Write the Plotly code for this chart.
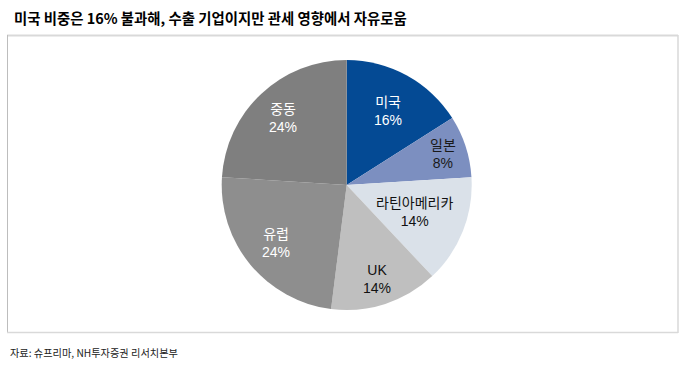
import math
import plotly.graph_objects as go

labels = ["미국", "일본", "라틴아메리카", "UK", "유럽", "중동"]
values = [16, 8, 14, 14, 24, 24]
colors = ["#044A94", "#7C8FC0", "#DAE1E9", "#BFBFBF", "#8E8E8E", "#7F7F7F"]
text_colors = ["#FFFFFF", "#1A1A1A", "#111111", "#111111", "#FFFFFF", "#FFFFFF"]
label_radius = [0.68, 0.81, 0.58, 0.79, 0.73, 0.74]
title_text = "미국 비중은 16% 불과해, 수출 기업이지만 관세 영향에서 자유로움"
source_text = "자료: 슈프리마, NH투자증권 리서치본부"

W, H = 686, 368
cx, cy, r = 346.7, 185.0, 125.0

fig = go.Figure(go.Pie(
    labels=labels,
    values=values,
    sort=False,
    direction="clockwise",
    rotation=0,
    marker=dict(colors=colors, line=dict(width=0)),
    textinfo="none",
    domain=dict(x=[(cx - r) / W, (cx + r) / W], y=[(H - cy - r) / H, (H - cy + r) / H]),
    showlegend=False,
    hoverinfo="skip",
))

def px_x(x):
    return x / W

def px_y(y):
    return 1 - y / H

shapes = [
    dict(type="line", xref="paper", yref="paper", x0=px_x(7), x1=px_x(678), y0=px_y(35.5), y1=px_y(35.5),
         line=dict(color="#D9D9D9", width=2)),
    dict(type="line", xref="paper", yref="paper", x0=px_x(7.5), x1=px_x(7.5), y0=px_y(35), y1=px_y(333),
         line=dict(color="#BDBDBD", width=1)),
    dict(type="line", xref="paper", yref="paper", x0=px_x(678), x1=px_x(678), y0=px_y(35), y1=px_y(333),
         line=dict(color="#D9D9D9", width=1.5)),
    dict(type="line", xref="paper", yref="paper", x0=px_x(7), x1=px_x(678), y0=px_y(332.5), y1=px_y(332.5),
         line=dict(color="#D9D9D9", width=1.5)),
]

annotations = [
    dict(text=title_text, xref="paper", yref="paper", x=px_x(12), y=px_y(17), xanchor="left", yanchor="middle",
         showarrow=False, font=dict(size=14.4, color="#000000", family="Noto Sans CJK KR", weight="bold")),
    dict(text=source_text, xref="paper", yref="paper", x=px_x(8), y=px_y(352), xanchor="left", yanchor="middle",
         showarrow=False, font=dict(size=10.2, color="#222222", family="Noto Sans CJK KR")),
]

# slice labels placed at each slice's mid-angle (derived from the values)
total = sum(values)
cum = 0.0
for lab, val, tc, rf in zip(labels, values, text_colors, label_radius):
    mid = (cum + val / 2) / total * 2 * math.pi
    cum += val
    lx = cx + rf * r * math.sin(mid)
    ly = cy - rf * r * math.cos(mid)
    annotations.append(dict(
        text=f"{lab}<br>{val}%", xref="paper", yref="paper", x=px_x(lx), y=px_y(ly),
        xanchor="center", yanchor="middle", showarrow=False, align="center",
        font=dict(size=14, color=tc, family="Liberation Sans, Arial, Noto Sans CJK KR"),
    ))

fig.update_layout(
    width=W, height=H,
    margin=dict(l=0, r=0, t=0, b=0),
    paper_bgcolor="white", plot_bgcolor="white",
    shapes=shapes, annotations=annotations,
)

fig.write_html("out.html", config={"displayModeBar": False},
               post_script="document.body.style.margin='0';")
